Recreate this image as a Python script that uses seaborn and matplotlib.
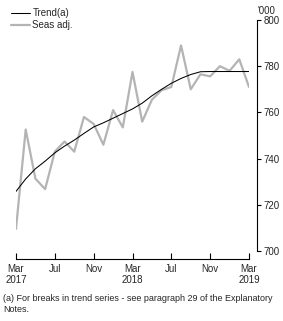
import matplotlib
matplotlib.use("Agg")
import matplotlib.pyplot as plt
import seaborn as sns
import pandas as pd

months = ["Mar 2017", "Apr 2017", "May 2017", "Jun 2017", "Jul 2017", "Aug 2017", "Sep 2017",
          "Oct 2017", "Nov 2017", "Dec 2017", "Jan 2018", "Feb 2018", "Mar 2018", "Apr 2018",
          "May 2018", "Jun 2018", "Jul 2018", "Aug 2018", "Sep 2018", "Oct 2018", "Nov 2018",
          "Dec 2018", "Jan 2019", "Feb 2019", "Mar 2019"]
trend = [725.8, 731.2, 735.6, 738.9, 742.5, 745.4, 748.0, 750.9, 753.7, 755.5, 757.5, 759.5,
         761.5, 764.0, 767.2, 770.0, 772.6, 774.7, 776.4, 777.6, 777.7, 777.7, 777.7, 777.7, 777.7]
seas_adj = [709.6, 752.6, 731.3, 726.8, 743.0, 747.4, 743.0, 758.0, 755.0, 746.0, 761.0, 753.5,
            777.5, 756.0, 765.5, 769.6, 771.0, 789.0, 770.0, 776.5, 775.6, 780.0, 778.0, 783.0, 771.0]
tick_idx = [0, 4, 8, 12, 16, 20, 24]
tick_labels = ["Mar\n2017", "Jul", "Nov", "Mar\n2018", "Jul", "Nov", "Mar\n2019"]
y_ticks = [700, 720, 740, 760, 780, 800]

sns.set_theme(style="white")
plt.rcParams['font.family'] = ['Liberation Sans', 'DejaVu Sans']

df = pd.DataFrame({
    "idx": list(range(len(months))) * 2,
    "value": trend + seas_adj,
    "series": ["Trend(a)"] * len(months) + ["Seas adj."] * len(months),
})

fig = plt.figure(figsize=(2.83, 3.21), dpi=100)
ax = fig.add_axes([16 / 283, 1 - 251 / 321, (249 - 16) / 283, (251 - 20) / 321])

sns.lineplot(data=df[df.series == "Seas adj."], x="idx", y="value", ax=ax,
             color="#b4b4b4", linewidth=1.6, label="Seas adj.", zorder=2)
sns.lineplot(data=df[df.series == "Trend(a)"], x="idx", y="value", ax=ax,
             color="black", linewidth=0.75, label="Trend(a)", zorder=3)

ax.set_xlim(0, 24)
ax.set_ylim(700, 800)
ax.set_xlabel("")
ax.set_ylabel("")
ax.set_xticks(tick_idx)
ax.set_xticklabels(tick_labels, fontsize=7, linespacing=1.25)
ax.set_yticks(y_ticks)
ax.set_yticklabels([str(v) for v in y_ticks], fontsize=7)
ax.yaxis.tick_right()

for s in ["top", "left"]:
    ax.spines[s].set_visible(False)
for s in ["bottom", "right"]:
    ax.spines[s].set_visible(True)
    ax.spines[s].set_color("black")
    ax.spines[s].set_linewidth(0.8)
    ax.spines[s].set_position(("outward", 6))

ax.tick_params(axis="x", direction="in", length=4, width=0.8, color="black", pad=3,
               bottom=True, labelsize=7)
ax.tick_params(axis="y", direction="out", length=3, width=0.8, color="black", pad=1.5,
               right=True, left=False, labelsize=7)

handles, labels = ax.get_legend_handles_labels()
order = [labels.index("Trend(a)"), labels.index("Seas adj.")]
leg = ax.legend([handles[i] for i in order], [labels[i] for i in order],
                loc="upper left", bbox_to_anchor=(11 / 283, 1 - 8 / 321),
                bbox_transform=fig.transFigure, frameon=False, fontsize=7,
                handlelength=1.95, handletextpad=0.25, labelspacing=0.2,
                borderaxespad=0, borderpad=0)

fig.text(257 / 283, 1 - 11 / 321, "'000", fontsize=7, ha="left", va="center")
fig.text(3 / 283, 1 - 304 / 321,
         "(a) For breaks in trend series - see paragraph 29 of the Explanatory\nNotes.",
         fontsize=6.5, ha="left", va="center", linespacing=1.35)

fig.savefig("out.png", dpi=100)
